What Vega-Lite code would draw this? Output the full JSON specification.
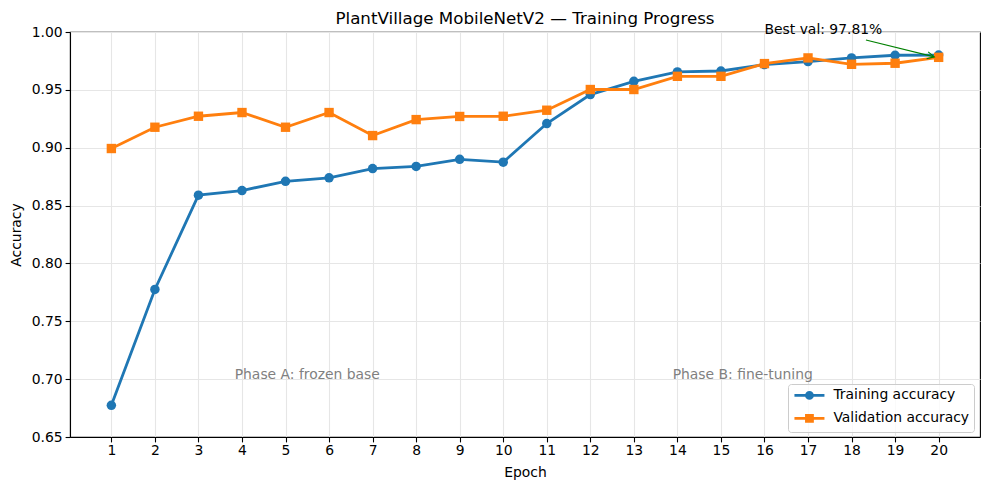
{
  "$schema": "https://vega.github.io/schema/vega-lite/v6.json",
  "width": 910,
  "height": 405,
  "autosize": {"type": "none"},
  "padding": {"left": 70, "top": 32, "right": 9, "bottom": 53},
  "title": {"text": "PlantVillage MobileNetV2 — Training Progress", "fontSize": 16.7, "fontWeight": "normal", "font": "DejaVu Sans", "color": "black", "offset": -4, "anchor": "middle"},
  "config": {
    "font": "DejaVu Sans",
    "view": {"stroke": "black", "strokeWidth": 1.1},
    "axis": {"labelFont": "DejaVu Sans", "labelFontSize": 13.9, "labelColor": "black", "titleFont": "DejaVu Sans", "titleFontSize": 13.9, "titleFontWeight": "normal", "titleColor": "black", "tickColor": "black", "tickSize": 4.9, "tickWidth": 1.1, "domainColor": "black", "domainWidth": 1.1, "gridColor": "#e6e6e6", "gridWidth": 1.1}
  },
  "datasets": {
    "acc": [
      {"epoch": 1, "accuracy": 0.6774, "series": "Training accuracy"},
      {"epoch": 2, "accuracy": 0.7775, "series": "Training accuracy"},
      {"epoch": 3, "accuracy": 0.8590, "series": "Training accuracy"},
      {"epoch": 4, "accuracy": 0.8630, "series": "Training accuracy"},
      {"epoch": 5, "accuracy": 0.8710, "series": "Training accuracy"},
      {"epoch": 6, "accuracy": 0.8740, "series": "Training accuracy"},
      {"epoch": 7, "accuracy": 0.8820, "series": "Training accuracy"},
      {"epoch": 8, "accuracy": 0.8838, "series": "Training accuracy"},
      {"epoch": 9, "accuracy": 0.8900, "series": "Training accuracy"},
      {"epoch": 10, "accuracy": 0.8875, "series": "Training accuracy"},
      {"epoch": 11, "accuracy": 0.9209, "series": "Training accuracy"},
      {"epoch": 12, "accuracy": 0.9459, "series": "Training accuracy"},
      {"epoch": 13, "accuracy": 0.9574, "series": "Training accuracy"},
      {"epoch": 14, "accuracy": 0.9655, "series": "Training accuracy"},
      {"epoch": 15, "accuracy": 0.9663, "series": "Training accuracy"},
      {"epoch": 16, "accuracy": 0.9718, "series": "Training accuracy"},
      {"epoch": 17, "accuracy": 0.9744, "series": "Training accuracy"},
      {"epoch": 18, "accuracy": 0.9776, "series": "Training accuracy"},
      {"epoch": 19, "accuracy": 0.9799, "series": "Training accuracy"},
      {"epoch": 20, "accuracy": 0.9801, "series": "Training accuracy"},
      {"epoch": 1, "accuracy": 0.8993, "series": "Validation accuracy"},
      {"epoch": 2, "accuracy": 0.9177, "series": "Validation accuracy"},
      {"epoch": 3, "accuracy": 0.9272, "series": "Validation accuracy"},
      {"epoch": 4, "accuracy": 0.9304, "series": "Validation accuracy"},
      {"epoch": 5, "accuracy": 0.9177, "series": "Validation accuracy"},
      {"epoch": 6, "accuracy": 0.9304, "series": "Validation accuracy"},
      {"epoch": 7, "accuracy": 0.9105, "series": "Validation accuracy"},
      {"epoch": 8, "accuracy": 0.9243, "series": "Validation accuracy"},
      {"epoch": 9, "accuracy": 0.9270, "series": "Validation accuracy"},
      {"epoch": 10, "accuracy": 0.9272, "series": "Validation accuracy"},
      {"epoch": 11, "accuracy": 0.9324, "series": "Validation accuracy"},
      {"epoch": 12, "accuracy": 0.9503, "series": "Validation accuracy"},
      {"epoch": 13, "accuracy": 0.9503, "series": "Validation accuracy"},
      {"epoch": 14, "accuracy": 0.9617, "series": "Validation accuracy"},
      {"epoch": 15, "accuracy": 0.9617, "series": "Validation accuracy"},
      {"epoch": 16, "accuracy": 0.9727, "series": "Validation accuracy"},
      {"epoch": 17, "accuracy": 0.9776, "series": "Validation accuracy"},
      {"epoch": 18, "accuracy": 0.9721, "series": "Validation accuracy"},
      {"epoch": 19, "accuracy": 0.9730, "series": "Validation accuracy"},
      {"epoch": 20, "accuracy": 0.9781, "series": "Validation accuracy"}
    ]
  },
  "layer": [
    {
      "data": {"name": "acc"},
      "mark": {"type": "line", "strokeWidth": 2.8},
      "encoding": {
        "x": {"field": "epoch", "type": "quantitative", "scale": {"domain": [0.05, 20.95], "nice": false, "zero": false},
          "axis": {"title": "Epoch", "values": [1,2,3,4,5,6,7,8,9,10,11,12,13,14,15,16,17,18,19,20], "labelPadding": 2, "titlePadding": 8, "labelFlush": false, "labelOverlap": false, "grid": true}},
        "y": {"field": "accuracy", "type": "quantitative", "scale": {"domain": [0.65, 1.0], "nice": false, "zero": false},
          "axis": {"title": "Accuracy", "values": [0.65, 0.7, 0.75, 0.8, 0.85, 0.9, 0.95, 1.0], "format": ".2f", "labelPadding": 3, "titlePadding": 8, "grid": true}},
        "color": {"field": "series", "type": "nominal",
          "scale": {"domain": ["Training accuracy", "Validation accuracy"], "range": ["#1f77b4", "#ff7f0e"]},
          "legend": {"title": null, "orient": "none", "legendX": 718, "legendY": 352, "padding": 4.5, "strokeColor": "#cccccc", "fillColor": "rgba(255,255,255,0.8)", "cornerRadius": 3, "labelFontSize": 13.9, "labelColor": "black", "labelFont": "DejaVu Sans", "symbolSize": 100, "symbolStrokeWidth": 2.8, "labelOffset": 27, "rowPadding": 5,
            "encode": {"symbols": {"update": {
              "shape": {"signal": "datum.value === 'Training accuracy' ? 'M-1,0L5,0M2.6,0A0.6,0.6,0,1,1,1.4,0A0.6,0.6,0,1,1,2.6,0Z' : 'M-1,0L5,0M1.4,-0.6L2.6,-0.6L2.6,0.6L1.4,0.6Z'"},
              "fill": {"scale": "color", "field": "value"},
              "stroke": {"scale": "color", "field": "value"},
              "opacity": {"value": 1}
            }}}}}
      }
    },
    {
      "data": {"name": "acc"},
      "transform": [{"filter": "datum.series === 'Training accuracy'"}],
      "mark": {"type": "point", "filled": true, "size": 90, "opacity": 1, "shape": "circle"},
      "encoding": {
        "x": {"field": "epoch", "type": "quantitative"},
        "y": {"field": "accuracy", "type": "quantitative"},
        "color": {"field": "series", "type": "nominal"}
      }
    },
    {
      "data": {"name": "acc"},
      "transform": [{"filter": "datum.series === 'Validation accuracy'"}],
      "mark": {"type": "point", "filled": true, "size": 88, "opacity": 1, "shape": "square"},
      "encoding": {
        "x": {"field": "epoch", "type": "quantitative"},
        "y": {"field": "accuracy", "type": "quantitative"},
        "color": {"field": "series", "type": "nominal"}
      }
    },
    {
      "mark": {"type": "rule", "color": "#b0b0b0", "strokeDash": [7.7, 3.3], "strokeWidth": 2.1},
      "encoding": {"x": {"datum": 10.5, "type": "quantitative"}}
    },
    {
      "data": {"values": [{"epoch": 5.5, "accuracy": 0.70, "note": "Phase A: frozen base"}, {"epoch": 15.5, "accuracy": 0.70, "note": "Phase B: fine-tuning"}]},
      "mark": {"type": "text", "align": "center", "baseline": "alphabetic", "fontSize": 13.9, "color": "#808080"},
      "encoding": {
        "x": {"field": "epoch", "type": "quantitative"},
        "y": {"field": "accuracy", "type": "quantitative"},
        "text": {"field": "note"}
      }
    },
    {
      "data": {"values": [{"x": 18.33, "y": 0.9931, "x2": 19.9, "y2": 0.9785}]},
      "mark": {"type": "rule", "color": "green", "strokeWidth": 1.1},
      "encoding": {
        "x": {"field": "x", "type": "quantitative"},
        "y": {"field": "y", "type": "quantitative"},
        "x2": {"field": "x2"},
        "y2": {"field": "y2"}
      }
    },
    {
      "data": {"values": [{"x": 19.9, "y": 0.9785}]},
      "mark": {"type": "point", "shape": "M-1,-0.5L0,0L-1,0.5", "filled": false, "stroke": "green", "strokeWidth": 1.1, "size": 200, "angle": 12.7, "opacity": 1},
      "encoding": {
        "x": {"field": "x", "type": "quantitative"},
        "y": {"field": "y", "type": "quantitative"}
      }
    },
    {
      "data": {"values": [{"x": 16, "y": 0.998, "note": "Best val: 97.81%"}]},
      "mark": {"type": "text", "align": "left", "baseline": "alphabetic", "fontSize": 13.9, "color": "black"},
      "encoding": {
        "x": {"field": "x", "type": "quantitative"},
        "y": {"field": "y", "type": "quantitative"},
        "text": {"field": "note"}
      }
    }
  ]
}
